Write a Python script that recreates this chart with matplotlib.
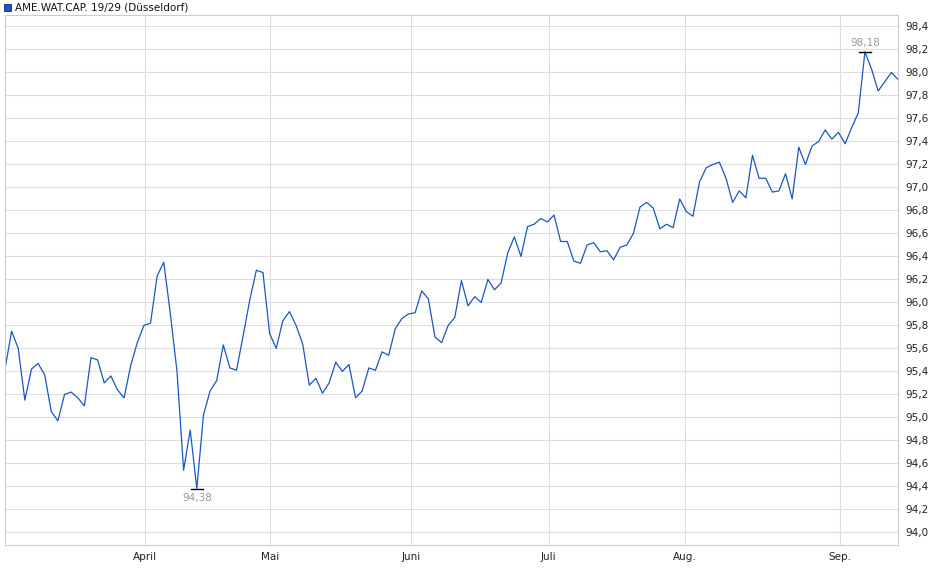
import numpy as np
import matplotlib.pyplot as plt

# closing prices (equally spaced trading days)
prices = [
    95.42, 95.75, 95.6, 95.15, 95.42, 95.47, 95.37, 95.05, 94.97, 95.2,
    95.22, 95.17, 95.1, 95.52, 95.5, 95.3, 95.36, 95.24, 95.17, 95.45,
    95.65, 95.8, 95.82, 96.23, 96.35, 95.9, 95.4, 94.54, 94.89, 94.38,
    95.02, 95.23, 95.32, 95.63, 95.43, 95.41, 95.71, 96.02, 96.28, 96.26,
    95.73, 95.6, 95.84, 95.92, 95.8, 95.64, 95.28, 95.34, 95.21, 95.3,
    95.48, 95.4, 95.46, 95.17, 95.23, 95.43, 95.41, 95.57, 95.54, 95.77,
    95.86, 95.9, 95.91, 96.1, 96.03, 95.7, 95.65, 95.8, 95.87, 96.19,
    95.97, 96.05, 96.0, 96.2, 96.11, 96.17, 96.43, 96.57, 96.4, 96.66,
    96.68, 96.73, 96.7, 96.76, 96.53, 96.53, 96.36, 96.34, 96.5, 96.52,
    96.44, 96.45, 96.37, 96.48, 96.5, 96.6, 96.83, 96.87, 96.82, 96.64,
    96.68, 96.65, 96.9, 96.79, 96.75, 97.05, 97.17, 97.2, 97.22, 97.08,
    96.87, 96.97, 96.91, 97.28, 97.08, 97.08, 96.96, 96.97, 97.12, 96.9,
    97.35, 97.2, 97.36, 97.4, 97.5, 97.42, 97.48, 97.38, 97.52, 97.65,
    98.18, 98.03, 97.84, 97.92, 98.0, 97.94,
]
month_labels = ["April", "Mai", "Juni", "Juli", "Aug.", "Sep."]
month_frac = [0.157, 0.297, 0.455, 0.609, 0.761, 0.935]  # share of the time span
yticks = np.round(np.arange(94.0, 98.41, 0.2), 1)
title = "AME.WAT.CAP. 19/29 (Düsseldorf)"

vals = np.array(prices)
x = np.arange(len(vals))
n = len(vals) - 1

fig = plt.figure(figsize=(9.4, 5.79), dpi=100)
ax = fig.add_axes([5 / 940, 1 - 545 / 579, 893 / 940, 530 / 579])
ax.plot(x, vals, color="#1a56c4", lw=0.9)
ax.set_xlim(0, n)
ax.set_ylim(93.89, 98.5)

ax.set_yticks(yticks)
ax.set_yticklabels([f"{v:.1f}".replace(".", ",") for v in yticks])
ax.yaxis.tick_right()
ax.tick_params(axis="y", length=0, labelsize=7.5, pad=5, colors="#222222")
ax.set_xticks([f * n for f in month_frac])
ax.set_xticklabels(month_labels)
ax.tick_params(axis="x", length=0, labelsize=7.5, pad=5, colors="#222222")
ax.grid(True, color="#dddddd", lw=0.8)
for s in ax.spines.values():
    s.set_color("#cccccc")
    s.set_linewidth(0.8)

# min / max markers
for idx, off, va in [(int(np.argmin(vals)), -3, "top"), (int(np.argmax(vals)), 3, "bottom")]:
    v = vals[idx]
    ax.plot([idx - 0.9, idx + 0.9], [v, v], color="black", lw=1)
    ax.annotate(f"{v:.2f}".replace(".", ","), (idx, v), xytext=(0, off),
                textcoords="offset points", ha="center", va=va,
                fontsize=7.5, color="#999999")

# legend square + title
fig.patches.append(plt.Rectangle((4 / 940, 1 - 11 / 579), 7 / 940, 7 / 579,
                                 transform=fig.transFigure, facecolor="#1a56c4",
                                 edgecolor="#0a2a70", lw=0.6))
fig.text(15 / 940, 1 - 7 / 579, title, fontsize=7.5, va="center", color="#111111")

fig.savefig("out.png", dpi=100)
